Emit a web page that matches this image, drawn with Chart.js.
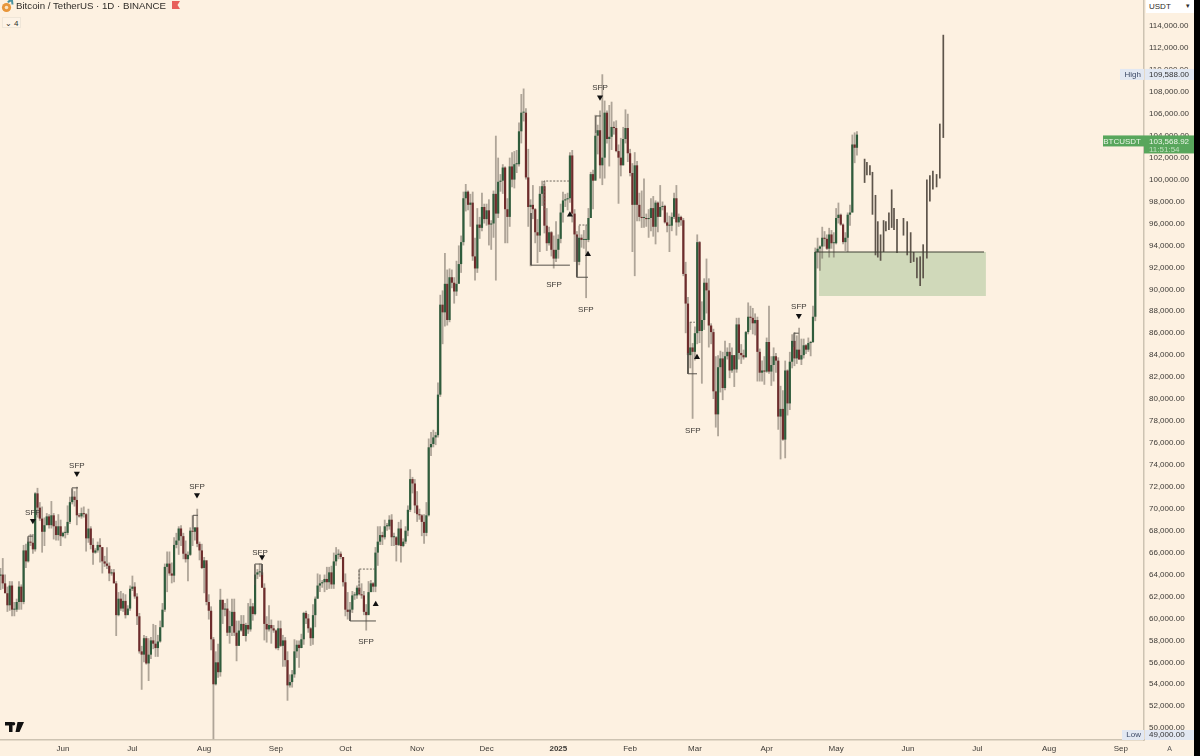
<!DOCTYPE html>
<html><head><meta charset="utf-8">
<style>
html,body{margin:0;padding:0;background:#000;width:1200px;height:756px;overflow:hidden}
#wrap{position:absolute;left:0;top:0;width:1194px;height:756px;background:#fdf1e1}
canvas{position:absolute;left:0;top:0;filter:blur(.35px)}
.o{position:absolute;font-family:"Liberation Sans",Arial,sans-serif;color:#2f2c28;white-space:nowrap}
</style></head><body><div id="wrap"><canvas id="c" width="1194" height="756"></canvas>
<svg class="o" style="left:1px;top:0" width="16" height="13"><circle cx="5.5" cy="7.5" r="4.6" fill="#e8963a"/><circle cx="5.5" cy="7.5" r="1.8" fill="#fbe3c0"/><path d="M7 2.5a4 4 0 0 1 4-2l.5 4" fill="none" stroke="#4a93a0" stroke-width="2"/></svg>
<div class="o" style="left:16px;top:0;font-size:9.7px;line-height:12px">Bitcoin / TetherUS · 1D · BINANCE</div>
<svg class="o" style="left:172px;top:1px" width="9" height="9"><path d="M0 0h8l-2.5 4 2.5 4H0z" fill="#e8605a"/></svg>
<div class="o" style="left:2px;top:17px;width:19px;height:11px;border:1px solid #efe6d8;background:#fdf3e6;font-size:8px;line-height:11px;text-align:center;box-sizing:border-box">⌄ 4</div>
<svg class="o" style="left:5px;top:722px" width="20" height="12"><path d="M0 0h7.5v10h-3.5v-6.5h-4zM12.5 0h6.5l-4.5 10h-4zM8.5 0a1.8 1.8 0 1 1 0 3.6a1.8 1.8 0 1 1 0-3.6z" fill="#111"/></svg>
<div class="o" style="left:1146px;top:0;width:48px;height:13px;background:#fff;font-size:8px;line-height:13px;padding-left:3px;box-sizing:border-box">USDT<span style="position:absolute;right:4px;top:-1px;font-size:7px">▾</span></div>
<div class="o" style="left:1145px;top:741px;width:49px;text-align:center;font-size:7px;line-height:16px;color:#555">A</div>
</div>
<script src="https://cdn.jsdelivr.net/npm/chart.js@4"></script>
<script>
// Prices in thousands of USDT, daily from 5 May 2024 (day -27, day 0 = 1 Jun 2024)
const firstDay = -27;
const closes = [
64.0,63.2,62.3,61.2,63.0,60.8,60.8,61.5,62.9,61.5,66.2,65.2,67.0,66.9,66.3,71.4,70.1,69.1,67.9,68.5,69.3,68.5,69.4,68.4,67.6,68.4,67.5,
67.8,67.8,68.8,70.6,71.1,70.8,69.4,69.3,69.6,69.5,67.3,68.2,66.7,66.0,66.2,66.7,66.5,65.2,65.0,64.8,64.1,64.2,63.2,60.3,61.8,60.9,61.6,60.3,60.9,62.7,
62.9,62.0,60.2,57.0,56.7,58.2,55.9,56.7,58.0,57.7,57.3,57.9,59.2,60.8,64.7,65.0,64.1,63.9,66.7,67.1,68.2,67.5,65.9,65.4,65.8,68.0,67.9,68.3,66.8,66.2,64.6,
65.3,61.5,60.7,58.1,54.0,56.0,55.1,61.7,60.8,60.9,58.7,59.3,60.6,58.7,57.5,58.9,59.5,58.4,59.4,59.0,61.1,60.4,64.0,64.2,64.2,62.8,59.5,59.0,59.4,59.1,58.9,
57.3,59.1,57.5,58.0,56.2,53.9,54.2,54.9,57.0,57.6,57.3,58.1,60.5,60.0,59.1,58.2,60.3,61.8,63.0,63.2,63.3,63.6,63.3,64.2,63.1,65.2,65.8,65.9,65.6,63.3,
60.8,60.6,60.8,62.1,62.1,62.8,62.2,62.1,60.6,60.3,62.4,63.2,62.9,66.0,67.0,67.6,67.4,68.4,68.4,69.0,67.4,67.4,66.7,68.2,66.6,67.0,68.0,69.9,72.7,72.3,70.3,
69.5,69.4,68.8,67.8,69.4,75.6,75.9,76.5,76.7,80.4,88.6,87.9,90.5,87.2,91.1,90.6,89.8,90.5,92.3,94.3,98.3,98.9,97.7,97.9,93.0,91.9,95.9,95.6,97.5,96.4,
97.2,95.9,96.0,98.7,96.9,99.8,99.9,101.1,97.3,96.6,101.2,100.0,101.4,101.4,104.4,106.1,106.1,100.2,97.5,97.7,97.3,95.2,94.9,98.7,99.4,95.8,94.2,95.2,93.6,92.8,93.6,
94.6,97.0,98.1,98.2,98.3,102.2,96.9,95.0,92.5,94.7,94.5,94.5,94.5,96.5,100.5,99.9,104.0,104.5,101.3,102.0,106.1,103.7,103.9,104.8,104.7,102.6,102.0,101.3,103.7,104.7,102.4,
100.6,97.7,101.3,97.7,96.6,96.5,96.5,96.4,96.5,97.4,95.7,97.9,96.6,97.5,97.6,96.1,95.8,95.8,96.6,98.3,96.1,96.6,96.3,91.4,88.7,84.0,84.7,84.3,
86.0,94.3,86.2,87.2,90.6,89.9,86.7,86.1,80.7,78.6,82.9,83.7,81.0,83.9,84.3,82.6,84.0,82.7,86.8,84.2,84.0,83.8,86.1,87.5,87.4,86.9,87.2,84.3,82.4,82.6,82.5,
85.2,82.5,83.1,83.9,83.5,78.4,79.1,76.3,82.6,79.6,83.4,85.3,83.7,84.5,83.6,84.0,84.9,84.5,85.1,85.2,87.5,93.4,93.7,93.9,94.7,94.6,93.7,95.0,94.2,94.2,
96.5,96.8,95.9,94.3,94.7,96.8,97.0,103.2,102.9,104.1];
const opens = [
63.9,64.0,63.2,62.3,61.2,63.0,60.8,60.8,61.5,62.9,61.5,66.2,65.2,67.0,66.9,66.3,71.4,70.1,69.1,67.9,68.5,69.3,68.5,69.4,68.4,67.6,68.4,
67.5,67.8,67.8,68.8,70.6,71.1,70.8,69.4,69.3,69.6,69.5,67.3,68.2,66.7,66.0,66.2,66.7,66.5,65.2,65.0,64.8,64.1,64.2,63.2,60.3,61.8,60.9,61.6,60.3,60.9,
62.7,62.9,62.0,60.2,57.0,56.7,58.2,55.9,56.7,58.0,57.7,57.3,57.9,59.2,60.8,64.7,65.0,64.1,63.9,66.7,67.1,68.2,67.5,65.9,65.4,65.8,68.0,67.9,68.3,66.8,66.2,
64.6,65.3,61.5,60.7,58.1,54.0,56.0,55.1,61.7,60.8,60.9,58.7,59.3,60.6,58.7,57.5,58.9,59.5,58.4,59.4,59.0,61.1,60.4,64.0,64.2,64.2,62.8,59.5,59.0,59.4,59.1,
58.9,57.3,59.1,57.5,58.0,56.2,53.9,54.2,54.9,57.0,57.6,57.3,58.1,60.5,60.0,59.1,58.2,60.3,61.8,63.0,63.2,63.3,63.6,63.3,64.2,63.1,65.2,65.8,65.9,65.6,
63.3,60.8,60.6,60.8,62.1,62.1,62.8,62.2,62.1,60.6,60.3,62.4,63.2,62.9,66.0,67.0,67.6,67.4,68.4,68.4,69.0,67.4,67.4,66.7,68.2,66.6,67.0,68.0,69.9,72.7,72.3,
70.3,69.5,69.4,68.8,67.8,69.4,75.6,75.9,76.5,76.7,80.4,88.6,87.9,90.5,87.2,91.1,90.6,89.8,90.5,92.3,94.3,98.3,98.9,97.7,97.9,93.0,91.9,95.9,95.6,97.5,
96.4,97.2,95.9,96.0,98.7,96.9,99.8,99.9,101.1,97.3,96.6,101.2,100.0,101.4,101.4,104.4,106.1,106.1,100.2,97.5,97.7,97.3,95.2,94.9,98.7,99.4,95.8,94.2,95.2,93.6,92.8,
93.6,94.6,97.0,98.1,98.2,98.3,102.2,96.9,95.0,92.5,94.7,94.5,94.5,94.5,96.5,100.5,99.9,104.0,104.5,101.3,102.0,106.1,103.7,103.9,104.8,104.7,102.6,102.0,101.3,103.7,104.7,
102.4,100.6,97.7,101.3,97.7,96.6,96.5,96.5,96.4,96.5,97.4,95.7,97.9,96.6,97.5,97.6,96.1,95.8,95.8,96.6,98.3,96.1,96.6,96.3,91.4,88.7,84.0,84.7,
84.3,86.0,94.3,86.2,87.2,90.6,89.9,86.7,86.1,80.7,78.6,82.9,83.7,81.0,83.9,84.3,82.6,84.0,82.7,86.8,84.2,84.0,83.8,86.1,87.5,87.4,86.9,87.2,84.3,82.4,82.6,
82.5,85.2,82.5,83.1,83.9,83.5,78.4,79.1,76.3,82.6,79.6,83.4,85.3,83.7,84.5,83.6,84.0,84.9,84.5,85.1,85.2,87.5,93.4,93.7,93.9,94.7,94.6,93.7,95.0,94.2,
94.2,96.5,96.8,95.9,94.3,94.7,96.8,97.0,103.2,102.9];
const highs = [
64.6,65.5,64.0,62.9,63.4,63.4,61.5,61.8,63.4,63.1,66.7,66.8,67.4,67.7,67.7,71.5,71.9,70.6,70.2,69.2,69.6,69.5,70.7,69.6,68.9,69.5,69.0,
67.9,68.4,70.3,71.1,71.8,71.6,72.0,69.6,70.1,70.2,69.6,70.0,68.4,67.3,66.4,67.0,67.3,66.5,65.7,66.5,65.1,64.5,64.5,63.4,62.4,62.5,62.3,62.2,61.2,63.0,
63.9,63.3,62.3,60.5,57.5,58.5,58.4,58.2,58.3,59.5,59.4,58.5,59.8,61.4,65.0,66.1,66.1,65.1,67.4,67.8,68.4,68.5,67.8,67.1,66.1,68.3,69.4,68.3,70.0,67.0,66.8,
65.6,65.0,62.2,61.1,58.3,57.0,57.7,62.7,61.7,61.4,61.8,60.7,61.8,61.8,59.8,59.8,60.3,60.3,59.6,61.4,61.8,61.4,64.9,64.5,65.0,64.5,63.2,60.2,61.2,59.9,59.4,
59.0,59.8,59.8,58.5,58.3,57.0,54.9,55.3,58.1,58.0,58.0,58.6,60.6,60.7,60.4,59.2,61.3,62.0,64.1,64.0,63.5,64.0,64.7,64.7,64.8,66.0,66.5,66.3,66.1,65.6,
64.1,62.4,61.5,62.5,62.4,63.0,64.5,63.2,62.5,61.3,63.4,63.5,63.3,66.5,68.4,68.4,67.9,69.0,68.7,69.4,69.5,67.8,67.5,68.8,69.0,67.3,68.4,70.3,73.6,72.9,72.7,
71.6,70.0,69.5,69.5,70.6,76.4,77.0,77.2,77.0,81.5,89.5,89.9,93.3,91.8,91.9,91.8,91.1,92.6,94.0,94.9,98.9,99.6,99.0,98.7,98.9,94.7,97.4,96.6,98.8,97.8,
97.8,98.2,96.3,99.0,104.0,102.0,100.5,101.4,101.2,98.3,102.0,102.5,102.6,102.7,105.2,107.8,108.3,106.5,102.8,98.2,99.5,97.4,96.4,99.4,99.9,99.9,97.4,95.7,95.3,94.9,96.2,
95.0,97.8,98.9,98.7,98.8,102.5,102.7,97.3,95.3,95.8,95.0,95.4,95.9,97.4,100.7,100.9,105.9,105.0,106.3,109.6,107.2,106.3,106.8,107.1,105.3,105.4,103.2,103.8,104.8,106.4,106.0,
102.8,101.5,102.5,101.7,98.8,99.0,100.1,96.9,97.3,98.3,98.5,98.1,98.0,99.5,98.0,97.7,97.0,96.7,97.0,98.8,99.5,96.9,96.7,96.5,92.5,89.3,87.0,85.1,
86.6,95.0,94.4,88.9,91.0,92.8,91.0,86.9,86.4,83.9,84.0,84.4,84.3,85.3,84.7,85.1,84.7,84.0,87.4,87.4,85.0,84.5,86.2,88.8,88.5,88.3,87.8,87.5,84.6,83.5,83.9,
85.6,88.5,83.9,84.7,84.2,83.8,81.2,80.8,83.5,82.7,84.3,85.9,86.1,85.8,86.5,85.5,85.5,85.0,85.6,85.3,88.5,93.8,94.7,94.0,95.7,95.3,95.0,95.6,95.4,95.2,
97.4,97.9,96.9,96.0,95.2,97.0,97.7,104.1,104.3,104.4];
const lows = [
62.6,62.7,62.3,60.6,60.7,60.2,60.2,60.6,60.8,60.8,61.3,64.6,65.1,66.6,65.9,66.1,69.2,68.9,66.0,66.6,68.5,68.2,68.2,67.2,67.1,67.1,66.6,
67.4,67.3,67.6,68.6,70.4,70.2,68.5,69.2,69.1,69.2,66.1,66.9,66.3,64.9,65.9,66.0,65.1,64.1,64.7,64.5,63.4,63.9,63.2,58.4,60.2,60.7,60.6,60.0,60.4,60.7,
62.5,61.8,59.4,56.8,53.5,56.0,55.8,54.3,56.3,57.2,56.5,56.5,57.8,59.2,60.6,62.4,63.9,63.2,63.3,66.4,65.8,66.6,65.4,65.1,63.4,65.7,66.6,67.1,66.5,65.3,64.5,
62.3,61.2,59.9,57.1,49.0,53.9,54.6,54.7,59.5,60.2,58.4,57.7,58.4,58.4,56.1,57.7,58.8,58.4,57.9,58.6,58.8,59.8,60.3,63.6,63.8,62.8,58.0,57.8,58.8,57.7,58.7,
57.2,57.1,57.4,55.6,55.6,52.5,53.7,53.7,54.6,56.4,55.5,57.3,57.6,59.5,58.7,57.5,57.6,59.2,61.8,62.4,62.8,62.4,62.6,62.7,62.7,62.7,64.8,65.4,65.4,62.9,
60.2,59.9,59.8,60.5,61.7,61.8,62.1,61.8,60.3,58.9,60.4,62.4,62.4,62.4,64.8,66.7,66.7,67.2,68.0,68.1,66.6,66.6,65.2,66.6,65.1,66.5,66.8,67.5,69.7,71.4,69.6,
68.8,69.0,67.5,66.8,67.5,69.3,74.8,75.6,75.8,76.5,80.2,85.0,86.6,86.7,87.0,90.1,88.7,89.4,90.9,91.5,94.0,97.1,97.2,95.7,92.6,90.8,91.5,94.6,95.3,96.0,
95.8,94.0,93.6,94.7,90.8,96.5,98.9,98.7,94.2,94.2,95.7,99.3,99.2,100.6,101.2,103.3,105.3,100.0,95.7,92.1,96.4,94.2,92.4,93.4,97.6,95.1,93.5,94.0,93.0,91.9,92.5,
92.8,94.2,96.1,97.5,97.2,97.9,96.1,92.5,91.2,92.2,93.8,93.7,89.2,94.3,96.5,97.3,100.0,102.3,100.1,99.5,100.1,103.3,101.2,102.7,104.1,102.5,97.8,100.3,101.3,103.3,101.6,
100.3,93.4,91.2,96.2,96.2,95.6,95.6,95.7,94.7,95.3,94.8,94.1,95.2,96.8,97.2,96.0,95.2,93.4,95.3,96.4,94.9,95.7,95.8,91.2,86.0,82.3,82.8,78.2,
83.5,85.0,85.1,81.4,86.3,87.8,84.7,85.0,80.0,77.4,76.6,80.6,79.9,80.8,83.6,81.9,82.4,81.1,82.4,83.6,83.2,83.6,83.8,85.9,86.3,85.9,85.8,81.6,81.6,81.6,81.3,
82.4,82.3,81.2,81.6,82.4,77.2,74.5,76.2,74.6,78.5,79.0,82.8,83.0,83.2,83.6,83.1,83.7,84.1,84.3,83.9,85.1,87.1,91.9,91.7,92.8,93.9,93.6,92.9,93.7,92.9,
94.1,96.0,95.8,94.1,93.5,93.4,95.8,97.0,101.5,102.2];
// Last stretch: plain range bars as they appear in the picture
const lateDays  = [346.3,347.3,348.6,349.7,351,352,353.2,354.5,355.5,356.8,358,359,360.3,363.1,364.7,366.2,367.5,368.9,370.3,371.6,373.2,374.5,375.8,377.4,378.8,380.3];
const lateHighs = [101.9,101.6,101.3,100.7,98.6,96.2,95,96.3,96.2,97,99.1,97.4,96.4,96.5,96.2,95.2,93.4,92.9,93,94.1,100,100.4,100.8,100.5,105.1,113.2];
const lateLows  = [99.7,100.4,100.4,96.8,93.1,92.9,92.6,93.4,95.3,95.4,95.6,95.4,93.3,94.9,93.1,92.4,92.5,91,90.3,91,92.8,98,99.1,99.3,100.1,103.8];
// Axis
const priceTicks = [50,52,54,56,58,60,62,64,66,68,70,72,74,76,78,80,82,84,86,88,90,92,94,96,98,100,102,104,106,108,110,112,114];
const monthDays   = [0,30,61,92,122,153,183,214,245,273,304,334,365,395,426,457];
const monthLabels = ['Jun','Jul','Aug','Sep','Oct','Nov','Dec','2025','Feb','Mar','Apr','May','Jun','Jul','Aug','Sep'];
// Demand zone
const zoneDays = [326.6,398.7], zoneTop = 93.4, zoneBottom = 89.4, zoneLineDays = [324.8,397.9];
// SFP annotations [day, price]
const solidPaths = [
 [[-15.1,66.9],[-15.1,67.5],[-13,67.5]],
 [[3.9,70.8],[3.9,71.9],[6.5,71.9]],
 [[56.2,68.1],[56.2,69.4],[58.3,69.4]],
 [[82.9,63.05],[82.9,64.96],[86,64.96],[86,63.96]],
 [[124,60.77],[124,59.77],[135.2,59.77]],
 [[202.2,96.95],[202.2,92.2],[219,92.2]],
 [[222,94.8],[222,91.1],[226.8,91.1]],
 [[230.2,104.25],[230.2,105.8],[232.4,105.8]],
 [[270,84.2],[270,82.3],[273.9,82.3]],
 [[315.8,84.74],[315.8,86],[317.9,86]]];
const dashedPaths = [
 [[127.9,62.3],[127.9,64.5],[134.8,64.5]],
 [[207.8,97.2],[207.8,99.87],[219,99.87]],
 [[222.9,95.86],[226.3,95.86]],
 [[270.8,87],[273,87]]];
const sfpDays   = [-13,6,57.9,85.1,130.9,212.1,225.9,232,272.1,317.9];
const sfpPrices = [69.6,73.9,72,66,57.85,90.4,88.1,108.35,77.1,88.4];
const downMarks = [[-13,68.9],[6,73.2],[57.9,71.25],[86,65.6],[232,107.5],[317.9,87.6]];
const upMarks   = [[135.1,61.3],[219,96.8],[226.8,93.2],[273.9,83.8]];
const highPrice = 109.588, lowPrice = 49.0, closeTag = 103.56892;

const UP='#2f5c3c', DOWN='#6e2c2c', WICK='rgba(98,90,80,.5)';
const n = Math.min(closes.length, opens.length, highs.length, lows.length);
const days = Array.from({length:n},(_,i)=>firstDay+i);
const barBase = {type:'bar',borderWidth:0,inflateAmount:0,grouped:false};
const pathSet = (p,extra)=>({type:'line',data:p.map(a=>({x:a[0],y:a[1]})),pointRadius:0,tension:0,borderCapStyle:'butt',order:2,...extra});
const fmt = v=>(v*1000).toLocaleString('en-US',{minimumFractionDigits:2,maximumFractionDigits:2});

const overlay = {id:'overlay',afterDraw(ch){
  const c=ch.ctx,x=ch.scales.x,y=ch.scales.y,a=ch.chartArea;
  c.save();c.textBaseline='middle';
  c.font='8px "Liberation Sans"';c.fillStyle='#3a3733';c.textAlign='center';
  sfpDays.forEach((d,i)=>c.fillText('SFP',x.getPixelForValue(d),y.getPixelForValue(sfpPrices[i])));
  const band=(py,h,lx,lw)=>{c.fillStyle='#e2e8f2';c.fillRect(lx,py-h/2,lw,h);};
  const hy=y.getPixelForValue(highPrice);
  band(hy,11,a.right-24,24);band(hy,11,a.right+1,49);
  c.fillStyle='#3d4a66';c.textAlign='right';c.fillText('High',a.right-3,hy);
  c.fillStyle='#333';c.textAlign='left';c.fillText(fmt(highPrice),a.right+5,hy);
  const ly=a.bottom-5;
  band(ly,10,a.right-22,22);band(ly,10,a.right+1,49);
  c.fillStyle='#3d4a66';c.textAlign='right';c.fillText('Low',a.right-3,ly);
  c.fillStyle='#333';c.textAlign='left';c.fillText(fmt(lowPrice),a.right+5,ly);
  const py=y.getPixelForValue(closeTag);
  c.fillStyle='#58a65c';c.fillRect(a.right-41,py-5,41,11);c.fillRect(a.right,py-5,50,18);
  c.fillStyle='#eaf5e6';c.textAlign='right';c.fillText('BTCUSDT',a.right-3,py+1);
  c.textAlign='left';c.fillText(fmt(closeTag),a.right+5,py+1);
  c.fillStyle='#bfe0bd';c.fillText('11:51:54',a.right+5,py+9);
  c.restore();
}};

new Chart(document.getElementById('c'),{
  type:'bar',
  data:{datasets:[
    {type:'line',data:zoneDays.map(d=>({x:d,y:zoneTop})),fill:{value:zoneBottom},backgroundColor:'#d0d9ba',borderWidth:0,pointRadius:0,order:10},
    {...barBase,data:days.map((d,i)=>({x:d,y:[lows[i],highs[i]]})),backgroundColor:WICK,barThickness:1.8,order:6},
    {...barBase,data:days.map((d,i)=>({x:d,y:[opens[i],closes[i]]})),backgroundColor:days.map((d,i)=>closes[i]>=opens[i]?UP:DOWN),barThickness:2.2,minBarLength:1,order:5},
    {...barBase,data:lateDays.map((d,i)=>({x:d,y:[lateLows[i],lateHighs[i]]})),backgroundColor:'#5e554b',barThickness:1.7,order:5},
    pathSet(zoneLineDays.map(d=>[d,zoneTop]),{borderColor:'#3f4034',borderWidth:1,order:3}),
    ...solidPaths.map(p=>pathSet(p,{borderColor:'#55514a',borderWidth:1})),
    ...dashedPaths.map(p=>pathSet(p,{borderColor:'#6d675d',borderWidth:1,borderDash:[2,1.5]})),
    {type:'line',showLine:false,data:downMarks.map(a=>({x:a[0],y:a[1]})),pointStyle:'triangle',rotation:180,pointRadius:3.5,backgroundColor:'#111',borderWidth:0,order:1},
    {type:'line',showLine:false,data:upMarks.map(a=>({x:a[0],y:a[1]})),pointStyle:'triangle',pointRadius:3.5,backgroundColor:'#111',borderWidth:0,order:1}
  ]},
  options:{
    responsive:false,animation:false,events:[],
    layout:{autoPadding:false,padding:0},
    plugins:{legend:{display:false},tooltip:{enabled:false}},
    scales:{
      x:{type:'linear',offset:false,min:-27.2,max:467,position:'bottom',
        grid:{display:false,drawTicks:false},
        border:{color:'#cdc3b2',width:1.5},
        afterFit(s){s.height=16;s.paddingLeft=0;s.paddingRight=0},
        afterBuildTicks(s){s.ticks=monthDays.map(v=>({value:v}))},
        ticks:{autoSkip:false,maxRotation:0,padding:4,color:'#3d3a36',
          font:ctx=>({family:'"Liberation Sans"',size:8,weight:ctx.tick&&ctx.tick.value===214?'bold':'normal'}),
          callback:v=>monthLabels[monthDays.indexOf(v)]}},
      y:{type:'linear',position:'right',min:48.92,max:116.37,
        grid:{display:false,drawTicks:false},
        border:{color:'#cdc3b2',width:1.5},
        afterFit(s){s.width=50;s.paddingTop=0;s.paddingBottom=0},
        afterBuildTicks(s){s.ticks=priceTicks.map(v=>({value:v}))},
        ticks:{autoSkip:false,padding:5,color:'#3d3a36',
          font:{family:'"Liberation Sans"',size:8},
          callback:v=>fmt(v)}}
    }
  },
  plugins:[overlay]
});
</script></body></html>
